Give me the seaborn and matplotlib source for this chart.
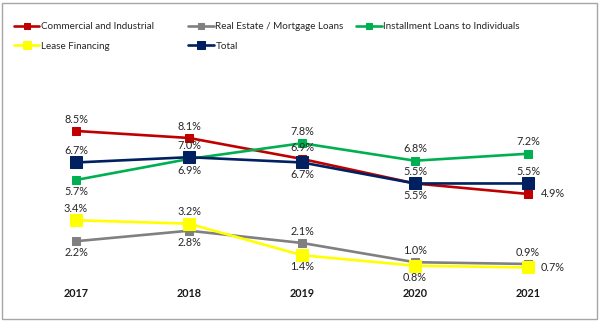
import matplotlib
matplotlib.use("Agg")
import matplotlib.pyplot as plt
import seaborn as sns
import pandas as pd
from matplotlib.patches import Rectangle

years = ["2017", "2018", "2019", "2020", "2021"]
commercial = [8.5, 8.1, 6.9, 5.5, 4.9]
real_estate = [2.2, 2.8, 2.1, 1.0, 0.9]
installment = [5.7, 6.9, 7.8, 6.8, 7.2]
lease = [3.4, 3.2, 1.4, 0.8, 0.7]
total = [6.7, 7.0, 6.7, 5.5, 5.5]

series_names = ["Commercial and Industrial", "Real Estate / Mortgage Loans",
                "Installment Loans to Individuals", "Lease Financing", "Total"]
series_vals = [commercial, real_estate, installment, lease, total]
colors = ["#C00000", "#808080", "#00B050", "#FFFF00", "#002060"]
msizes = [6, 6, 6, 8.5, 8.5]
# label placement per point: a=above, b=below, r=right
placements = [
    ["a", "a", "a", "b", "r"],
    ["b", "b", "a", "a", "a"],
    ["b", "b", "a", "a", "a"],
    ["a", "a", "b", "b", "r"],
    ["a", "a", "b", "a", "a"],
]

sns.set_theme(style="white")
plt.rcParams['font.family'] = ['Lato', 'Liberation Sans', 'DejaVu Sans']

fig = plt.figure(figsize=(6.02, 3.23), dpi=100)
ax = fig.add_axes([0.0324, 0.134, 0.9385, 0.5147])

rows = []
for name, vals in zip(series_names, series_vals):
    for i, (y, v) in enumerate(zip(years, vals)):
        rows.append({"idx": i, "year": y, "value": v, "series": name})
df = pd.DataFrame(rows)

for name, col, ms in zip(series_names, colors, msizes):
    sub = df[df["series"] == name]
    sns.lineplot(data=sub, x="idx", y="value", color=col, marker="s",
                 markersize=ms, markeredgecolor=col, linewidth=1.9,
                 label=name, ax=ax)

offsets = {"a": (0, 4.5, "center", "bottom"), "b": (0, -4.5, "center", "top"),
           "r": (9, 0, "left", "center")}
for vals, pl in zip(series_vals, placements):
    for i, (v, p) in enumerate(zip(vals, pl)):
        dx, dy, ha, va = offsets[p]
        ax.annotate(f"{v:.1f}%", (i, v), xytext=(dx, dy), textcoords="offset points",
                    ha=ha, va=va, fontsize=7.8, color="#262626")

ax.set_xlim(-0.5, 4.5)
ax.set_ylim(0, 9.5)
ax.set_xticks(range(len(years)))
ax.set_xticklabels(years, fontweight="bold", fontsize=7.8, color="#1a1a1a")
ax.set_yticks([])
ax.tick_params(axis="x", length=0, pad=6)
ax.set_xlabel("")
ax.set_ylabel("")
for s in ax.spines.values():
    s.set_visible(False)
ax.patch.set_alpha(0)

handles, labels = ax.get_legend_handles_labels()
ax.legend_.remove()
# legend laid out row by row in three columns
col_x = [0.018, 0.308, 0.587]
col_items = [[0, 3], [1, 4], [2]]
for cx, items in zip(col_x, col_items):
    fig.legend([handles[k] for k in items], [labels[k] for k in items],
               loc="upper left", bbox_to_anchor=(cx, 0.94), frameon=False,
               fontsize=7.1, handlelength=2.6, handletextpad=0.15,
               labelspacing=1.05, markerscale=0.75, borderaxespad=0,
               borderpad=0.3)

fig.patches.append(Rectangle((0.004, 0.012), 0.988, 0.98, transform=fig.transFigure,
                             fill=False, edgecolor="#A6A6A6", linewidth=1.0))

fig.savefig("out.png", dpi=100)
